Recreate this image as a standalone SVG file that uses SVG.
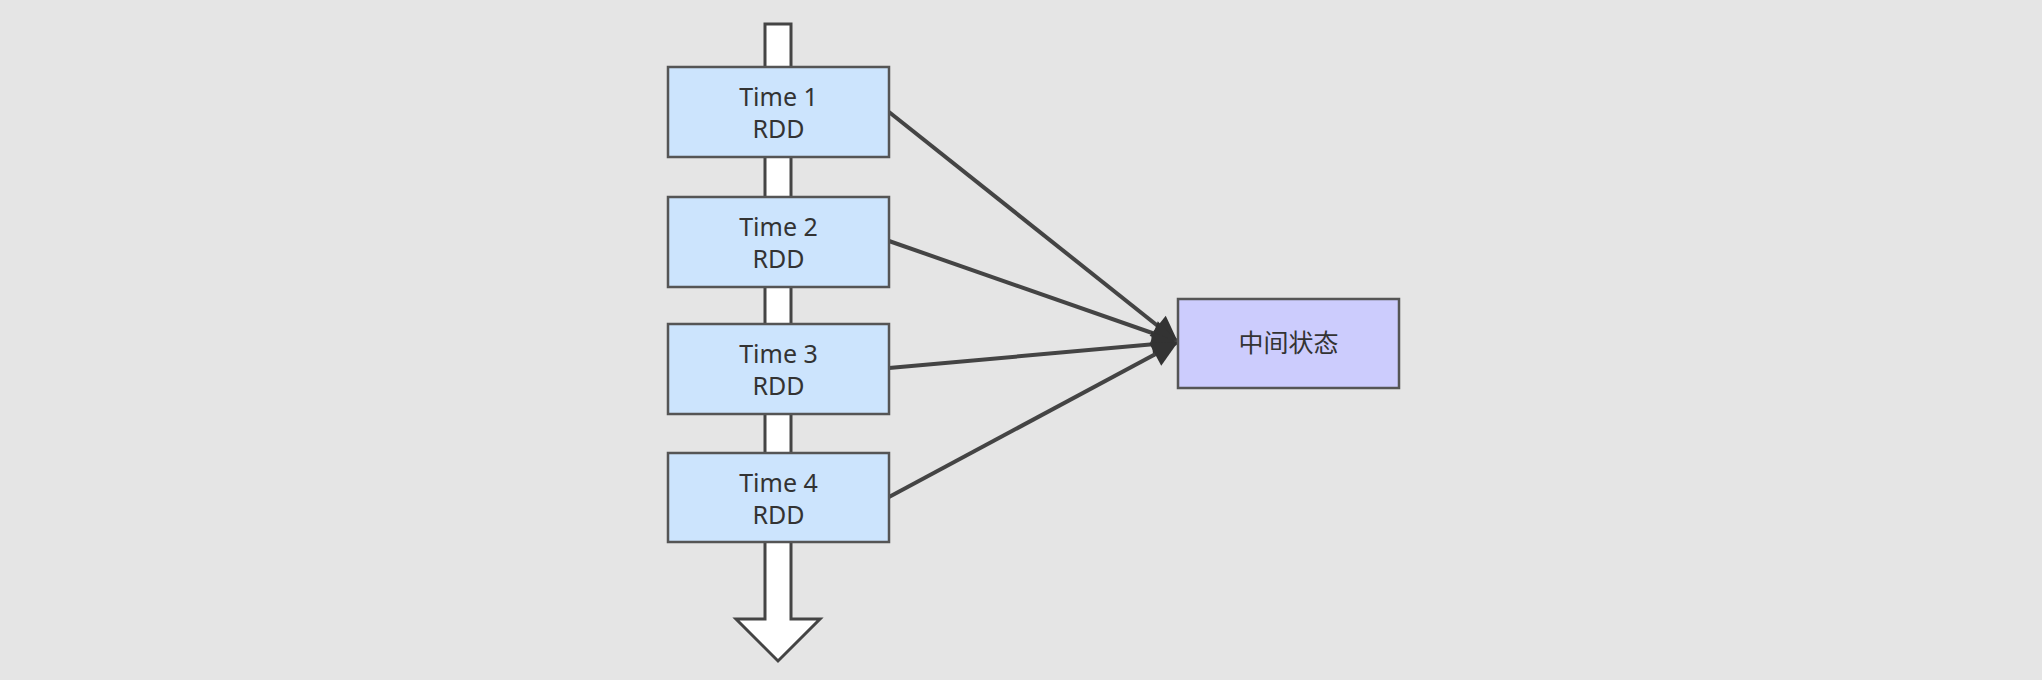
<svg xmlns="http://www.w3.org/2000/svg" width="2042" height="680" viewBox="0 0 2042 680">
<style>
.bg{fill:#e5e5e5}
.rdd{fill:#cce4fd;stroke:#555;stroke-width:2.5}
.mid{fill:#ccccfd;stroke:#555;stroke-width:2.5}
.t{font-family:"Noto Sans","Liberation Sans",sans-serif;font-size:25px;fill:#333;text-anchor:middle}
.c{font-family:"Noto Sans CJK SC","Noto Sans",sans-serif;font-size:25px;fill:#333;text-anchor:middle}
.edge{fill:none;stroke:#444;stroke-width:4}
.flow{fill:#fff;stroke:#444;stroke-width:3;stroke-linejoin:miter}
</style>
<defs>
<marker id="ah" viewBox="0 0 10 10" refX="10" refY="5" markerWidth="30" markerHeight="26" markerUnits="userSpaceOnUse" orient="auto">
<path d="M0,0 L10,5 L0,10 z" fill="#333"/>
</marker>
</defs>
<rect class="bg" x="0" y="0" width="2042" height="680"/>
<g id="timeline">
<path class="flow" d="M765,24 L791,24 L791,619 L820,619 L778,661 L736,619 L765,619 Z"/>
</g>
<g id="connectors">
<line class="edge" x1="889" y1="112" x2="1178" y2="342" marker-end="url(#ah)"/>
<line class="edge" x1="889" y1="241" x2="1178" y2="342" marker-end="url(#ah)"/>
<line class="edge" x1="889" y1="368" x2="1178" y2="342" marker-end="url(#ah)"/>
<line class="edge" x1="889" y1="497" x2="1178" y2="342" marker-end="url(#ah)"/>
</g>
<g id="time1">
<rect class="rdd" x="668" y="67" width="221" height="90"/>
<text class="t" x="778.5" y="105.5">Time 1</text>
<text class="t" x="778.5" y="138">RDD</text>
</g>
<g id="time2">
<rect class="rdd" x="668" y="197" width="221" height="90"/>
<text class="t" x="778.5" y="235.5">Time 2</text>
<text class="t" x="778.5" y="268">RDD</text>
</g>
<g id="time3">
<rect class="rdd" x="668" y="324" width="221" height="90"/>
<text class="t" x="778.5" y="362.5">Time 3</text>
<text class="t" x="778.5" y="395">RDD</text>
</g>
<g id="time4">
<rect class="rdd" x="668" y="453" width="221" height="89"/>
<text class="t" x="778.5" y="491.5">Time 4</text>
<text class="t" x="778.5" y="524">RDD</text>
</g>
<g id="state">
<rect class="mid" x="1178" y="299" width="221" height="89"/>
<text class="c" x="1288.5" y="352">中间状态</text>
</g>
</svg>
